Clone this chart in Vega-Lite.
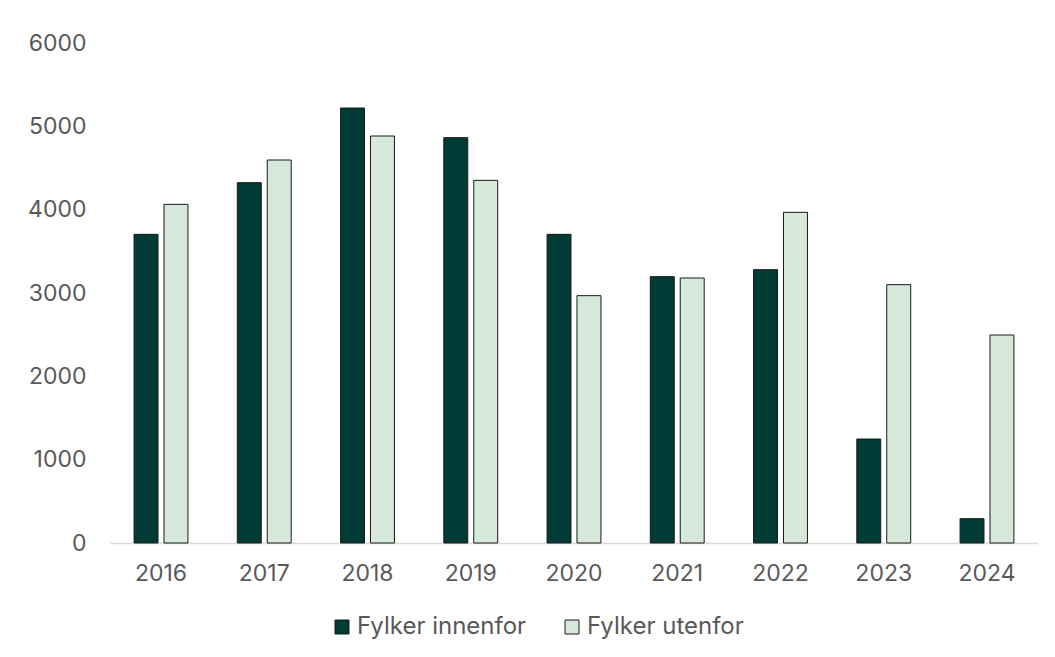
{
  "$schema": "https://vega.github.io/schema/vega-lite/v6.json",
  "width": 928,
  "height": 500,
  "autosize": {"type": "none"},
  "padding": {"left": 110, "top": 43, "right": 17, "bottom": 114},
  "background": "white",
  "config": {
    "view": {"stroke": null},
    "font": "Inter",
    "axis": {"labelFont": "Inter", "labelColor": "#595959", "labelFontSize": 23, "grid": false, "ticks": false, "title": null},
    "legend": {"labelFont": "Inter", "labelColor": "#595959", "labelFontSize": 24, "labelLimit": 400}
  },
  "data": {
    "values": [
      {"year": "2016", "series": "Fylker innenfor", "value": 3704},
      {"year": "2016", "series": "Fylker utenfor", "value": 4064},
      {"year": "2017", "series": "Fylker innenfor", "value": 4324},
      {"year": "2017", "series": "Fylker utenfor", "value": 4596},
      {"year": "2018", "series": "Fylker innenfor", "value": 5220},
      {"year": "2018", "series": "Fylker utenfor", "value": 4884},
      {"year": "2019", "series": "Fylker innenfor", "value": 4864},
      {"year": "2019", "series": "Fylker utenfor", "value": 4352},
      {"year": "2020", "series": "Fylker innenfor", "value": 3704},
      {"year": "2020", "series": "Fylker utenfor", "value": 2968},
      {"year": "2021", "series": "Fylker innenfor", "value": 3196},
      {"year": "2021", "series": "Fylker utenfor", "value": 3180},
      {"year": "2022", "series": "Fylker innenfor", "value": 3280},
      {"year": "2022", "series": "Fylker utenfor", "value": 3968},
      {"year": "2023", "series": "Fylker innenfor", "value": 1248},
      {"year": "2023", "series": "Fylker utenfor", "value": 3100},
      {"year": "2024", "series": "Fylker innenfor", "value": 292},
      {"year": "2024", "series": "Fylker utenfor", "value": 2496}
    ]
  },
  "mark": {"type": "bar", "stroke": "#1a1a1a", "strokeWidth": 1},
  "encoding": {
    "x": {
      "field": "year", "type": "nominal",
      "scale": {"paddingInner": 0.478, "paddingOuter": 0.233},
      "axis": {"labelAngle": 0, "labelPadding": 19, "domainColor": "#D9D9D9", "domainWidth": 1.5}
    },
    "xOffset": {
      "field": "series", "type": "nominal",
      "sort": ["Fylker innenfor", "Fylker utenfor"],
      "scale": {"paddingInner": 0.2, "paddingOuter": 0}
    },
    "y": {
      "field": "value", "type": "quantitative",
      "scale": {"domain": [0, 6000], "nice": false},
      "axis": {"values": [0, 1000, 2000, 3000, 4000, 5000, 6000], "format": "d", "domain": false, "labelPadding": 24}
    },
    "color": {
      "field": "series", "type": "nominal",
      "sort": ["Fylker innenfor", "Fylker utenfor"],
      "scale": {"domain": ["Fylker innenfor", "Fylker utenfor"], "range": ["#003B36", "#D5E8D9"]},
      "legend": {
        "title": null, "orient": "none", "direction": "horizontal",
        "legendX": 220, "legendY": 572,
        "symbolType": "square", "symbolSize": 196, "symbolStrokeColor": "#1a1a1a", "symbolStrokeWidth": 1,
        "symbolOpacity": 1, "labelOffset": 3, "columnPadding": 33
      }
    }
  }
}
